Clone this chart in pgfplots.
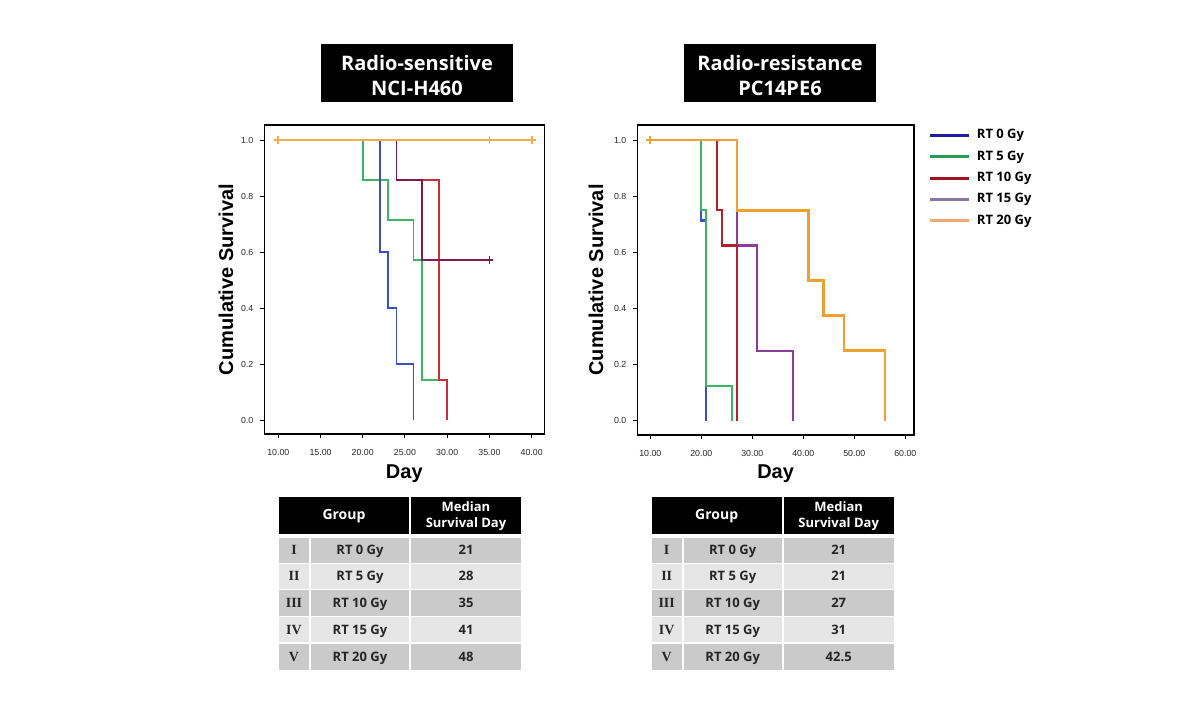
\documentclass[border=0pt]{standalone}
\usepackage{pgfplots}
\pgfplotsset{compat=1.18}
\usepackage{fontspec}
\setmainfont{Liberation Sans}
\newfontfamily\osans{Open Sans}
\newfontfamily\rserif{Liberation Serif}

\definecolor{cBlue}{HTML}{3A50C0}
\definecolor{cGreen}{HTML}{3CB464}
\definecolor{cRed}{HTML}{B4202C}
\definecolor{cRedL}{HTML}{C8303C}
\definecolor{cMaroon}{HTML}{7E1A4E}
\definecolor{cPurple}{HTML}{8C3C9C}
\definecolor{cOrange}{HTML}{F0A02C}
\definecolor{lBlue}{HTML}{1C1C9C}
\definecolor{lGreen}{HTML}{22A050}
\definecolor{lRed}{HTML}{A0141E}
\definecolor{lPurple}{HTML}{8878A0}
\definecolor{lOrange}{HTML}{F0A870}
\definecolor{rowA}{HTML}{CACACA}
\definecolor{rowB}{HTML}{E6E6E6}

\newcommand{\tabfont}{\osans\bfseries\fontsize{6.5}{8}\selectfont}

\pgfplotsset{kmaxis/.style={
  scale only axis,
  ymin=-0.05, ymax=1.054,
  ytick={0,0.2,0.4,0.6,0.8,1},
  tick align=outside, tick pos=left,
  major tick length=2pt,
  /pgf/number format/assume math mode=true,
  tick label style={font=\fontsize{4.4}{5}\selectfont, text=black!85},
  yticklabel style={/pgf/number format/.cd, fixed, fixed zerofill, precision=1},
  xticklabel style={yshift=-2pt, /pgf/number format/.cd, fixed, fixed zerofill, precision=2},
  label style={font=\bfseries\fontsize{10}{12}\selectfont},
  axis line style={line width=0.7pt},
  every tick/.style={black, line width=0.5pt},
  const plot,
  every axis plot/.append style={line width=0.9pt},
}}

\newcommand{\survtable}[6]{%
\begin{scope}[shift={(#1,0)}]
\fill[black] (279,497) rectangle (409.3,534);
\fill[black] (411.3,497) rectangle (521,534);
\node[font=\tabfont\fontsize{7}{8}\selectfont, text=white] at (344,516) {Group};
\node[font=\tabfont, text=white, align=center] at (466,516) {Median\\Survival Day};
\foreach \ya/\yb/\cc/\rn/\grp/\val in {538/562.7/rowA/I/RT 0 Gy/#2, 564/588.7/rowB/II/RT 5 Gy/#3, 590/615.7/rowA/III/RT 10 Gy/#4, 617/642.3/rowB/IV/RT 15 Gy/#5, 643.7/670/rowA/V/RT 20 Gy/#6}{
  \fill[\cc] (279,\ya) rectangle (309.3,\yb);
  \fill[\cc] (311,\ya) rectangle (409.3,\yb);
  \fill[\cc] (411.3,\ya) rectangle (521,\yb);
  \node[anchor=base, font=\rserif\bfseries\fontsize{7}{8}\selectfont, text=black!85] at (294,{(\ya+\yb)/2+4.6}) {\rn};
  \node[anchor=base, font=\tabfont, text=black!85] at (360,{(\ya+\yb)/2+4.6}) {\grp};
  \node[anchor=base, font=\tabfont, text=black!85] at (466,{(\ya+\yb)/2+4.6}) {\val};
}
\end{scope}}

\begin{document}
\begin{tikzpicture}
\useasboundingbox (0,0) rectangle (595pt,-357.5pt);

% ---------- left axis ----------
\begin{axis}[kmaxis,
  at={(132.15pt,-217pt)}, anchor=south west,
  width=140pt, height=154.5pt,
  xmin=8.34, xmax=41.5,
  xtick={10,15,20,25,30,35,40},
  xlabel={Day}, ylabel={Cumulative Survival},
  xlabel style={at={(axis description cs:0.5,-0.129)}, anchor=center},
  ylabel style={at={(axis description cs:-0.137,0.5)}, anchor=center},
]
\addplot[cGreen] coordinates {(10,1) (20,0.857) (23,0.714) (26,0.571) (27,0.143) (30,0)};
\addplot[cBlue] coordinates {(10,1) (22,0.6) (23,0.4) (24,0.2) (26,0)};
\addplot[cRedL] coordinates {(10,1) (24,0.857) (29,0.143) (30,0)};
\addplot[cMaroon] coordinates {(10,1) (24,0.857) (27,0.571) (35,0.571)};
\addplot[cMaroon, only marks, mark=+, mark size=2pt] coordinates {(35,0.571)};
\addplot[cOrange!85!white] coordinates {(10,1) (40,1)};
\addplot[cOrange!85!white, only marks, mark=+, mark size=2pt] coordinates {(10,1) (35,1) (40,1)};
\end{axis}

% ---------- right axis ----------
\begin{axis}[kmaxis,
  at={(318.65pt,-217.5pt)}, anchor=south west,
  width=138.35pt, height=155pt,
  xmin=7.45, xmax=61.7,
  xtick={10,20,30,40,50,60},
  xlabel={Day}, ylabel={Cumulative Survival},
  xlabel style={at={(axis description cs:0.5,-0.126)}, anchor=center},
  ylabel style={at={(axis description cs:-0.149,0.5)}, anchor=center},
  every axis plot/.append style={line width=1.05pt},
  legend style={at={(axis description cs:1,1)}, anchor=north west, xshift=7pt, yshift=-0.3pt,
    draw=none, fill=none, font=\osans\bfseries\fontsize{6.5}{7}\selectfont,
    row sep=1.15pt, inner sep=0pt,
    nodes={inner sep=1.5pt, text height=5pt, text depth=1.5pt}},
  legend cell align=left,
  legend image code/.code={\draw[#1, line width=1.5pt] (0pt,0pt) -- (19.5pt,0pt); \path (21.5pt,0pt);},
]
\addlegendimage{lBlue}\addlegendentry{RT 0 Gy}
\addlegendimage{lGreen}\addlegendentry{RT 5 Gy}
\addlegendimage{lRed}\addlegendentry{RT 10 Gy}
\addlegendimage{lPurple}\addlegendentry{RT 15 Gy}
\addlegendimage{lOrange}\addlegendentry{RT 20 Gy}
\addplot[cBlue, forget plot] coordinates {(10,1) (20,0.714) (21,0)};
\addplot[cGreen, forget plot] coordinates {(10,1) (20,0.75) (21,0.125) (26,0)};
\addplot[cPurple, forget plot] coordinates {(10,1) (27,0.625) (31,0.25) (38,0)};
\addplot[cRed, forget plot] coordinates {(10,1) (23,0.75) (24,0.625) (27,0)};
\addplot[cOrange, line width=1.3pt, forget plot] coordinates {(10,1) (27,0.75) (41,0.5) (44,0.375) (48,0.25) (56,0)};
\addplot[cOrange, only marks, mark=+, mark size=2pt, forget plot] coordinates {(10,1)};
\end{axis}

% ---------- titles and tables ----------
\begin{scope}[x=0.5pt,y=-0.5pt]
\fill[black] (321,44) rectangle (513,102);
\node[anchor=base, text=white, font=\osans\bfseries\fontsize{10}{12}\selectfont] at (417,71) {Radio-sensitive};
\node[anchor=base, text=white, font=\osans\bfseries\fontsize{10}{12}\selectfont] at (417,96) {NCI-H460};
\fill[black] (684,44) rectangle (876,102);
\node[anchor=base, text=white, font=\osans\bfseries\fontsize{10}{12}\selectfont] at (780,71) {Radio-resistance};
\node[anchor=base, text=white, font=\osans\bfseries\fontsize{10}{12}\selectfont] at (780,96) {PC14PE6};
\survtable{0}{21}{28}{35}{41}{48}
\survtable{372.7}{21}{21}{27}{31}{42.5}
\end{scope}
\end{tikzpicture}
\end{document}
